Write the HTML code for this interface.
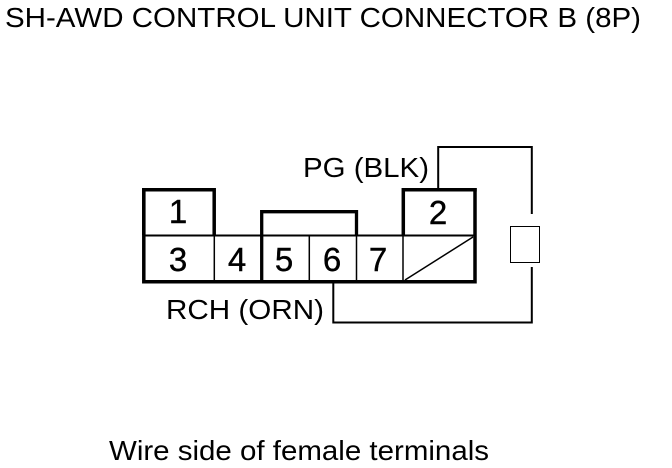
<!DOCTYPE html>
<html>
<head>
<meta charset="utf-8">
<style>
html,body{margin:0;padding:0;background:#fff;width:672px;height:468px;overflow:hidden}
svg{display:block}
text{font-family:"Liberation Sans",sans-serif;fill:#000}
</style>
</head>
<body>
<svg width="672" height="468" viewBox="0 0 672 468" xmlns="http://www.w3.org/2000/svg">
<text x="5" y="27" font-size="28" textLength="636" lengthAdjust="spacingAndGlyphs">SH-AWD CONTROL UNIT CONNECTOR B (8P)</text>
<text x="303" y="177" font-size="28" textLength="126" lengthAdjust="spacingAndGlyphs">PG (BLK)</text>
<text x="166" y="319" font-size="28" textLength="158" lengthAdjust="spacingAndGlyphs">RCH (ORN)</text>
<text x="109" y="460" font-size="28" textLength="380" lengthAdjust="spacingAndGlyphs">Wire side of female terminals</text>
<g fill="none" stroke="#000" stroke-linecap="butt">
<path d="M143.800 235V189.800H214.200V235" stroke-width="3.500"/>
<path d="M143.800 188V281.800H475V188" stroke-width="3.500"/>
<path d="M403.300 235V189.800H476.700" stroke-width="3.500"/>
<path d="M261.700 281V211.700H356.500V235" stroke-width="3.300"/>
<path d="M144 235.500H475" stroke-width="2"/>
<path d="M214.300 235V281M309.300 235V281M356.500 235V281M403 235V281" stroke-width="1.500"/>
<path d="M405 280L473 237" stroke-width="1.500"/>
<path d="M438.200 188V147H531.800V214" stroke-width="2"/>
<path d="M531.800 267V322.500H333.300V283" stroke-width="2"/>
</g>
<rect x="510.500" y="226.500" width="29" height="36" fill="#fff" stroke="#000" stroke-width="1"/>
<g font-size="33" text-anchor="middle" stroke="#000" stroke-width="0.400">
<text x="178" y="223">1</text>
<text x="438" y="224">2</text>
<text x="178" y="271">3</text>
<text x="237" y="271">4</text>
<text x="284" y="271">5</text>
<text x="332" y="271">6</text>
<text x="378" y="271">7</text>
</g>
</svg>
</body>
</html>
